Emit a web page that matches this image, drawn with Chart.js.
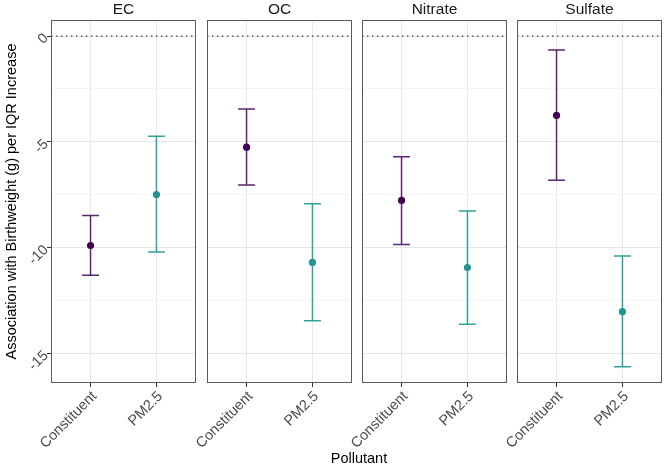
<!DOCTYPE html>
<html>
<head>
<meta charset="utf-8">
<script src="https://cdn.jsdelivr.net/npm/chart.js@4"></script>
<style>
  body { margin: 0; background: #fff; }
  #wrap { position: relative; width: 666px; height: 464px; font-family: "Liberation Sans", Arial, sans-serif; }
  #wrap canvas { position: absolute; top: 0; }
  #xtitle { position: absolute; left: 309px; width: 100px; top: 450px; text-align: center; font-size: 14.5px; line-height: 17px; color: #000; }
</style>
</head>
<body>
<div id="wrap">
  <canvas id="c0" width="200" height="464" style="left:0px"></canvas>
  <canvas id="c1" width="209" height="464" style="left:147px"></canvas>
  <canvas id="c2" width="209" height="464" style="left:302px"></canvas>
  <canvas id="c3" width="209" height="464" style="left:457px"></canvas>
  <div id="xtitle">Pollutant</div>
</div>
<script>
const facets = ["EC", "OC", "Nitrate", "Sulfate"];
const groups = ["Constituent", "PM2.5"];
const constituentEst = [-9.90, -5.25, -7.77, -3.75];
const constituentLow = [-11.31, -7.04, -9.85, -6.82];
const constituentHigh = [-8.48, -3.45, -5.70, -0.66];
const pm25Est = [-7.49, -10.70, -10.94, -13.03];
const pm25Low = [-10.21, -13.46, -13.62, -15.63];
const pm25High = [-4.74, -7.93, -8.27, -10.40];
const yTicks = [-15, -12.5, -10, -7.5, -5, -2.5, 0];
const yLimits = [-16.4, 0.76];

const pointColors = ["#440154", "#21968e"];
const barColors = ["#5b2570", "#2fa398"];
const capHalf = 0.128;
const tickFont = { size: 14.5, family: "Liberation Sans" };

const errorBars = {
  id: "errorBars",
  beforeDatasetsDraw(chart, args, opts) {
    const { ctx, scales: { x, y } } = chart;
    const i = opts.facet;
    const bars = [
      [1, constituentLow[i], constituentHigh[i], barColors[0]],
      [2, pm25Low[i], pm25High[i], barColors[1]]
    ];
    ctx.save();
    ctx.lineWidth = 1.5;
    bars.forEach(([pos, lo, hi, col]) => {
      const cx = x.getPixelForValue(pos);
      const x0 = x.getPixelForValue(pos - capHalf);
      const x1 = x.getPixelForValue(pos + capHalf);
      const yl = y.getPixelForValue(lo);
      const yh = y.getPixelForValue(hi);
      ctx.strokeStyle = col;
      ctx.beginPath();
      ctx.moveTo(x0, yh); ctx.lineTo(x1, yh);
      ctx.moveTo(cx, yh); ctx.lineTo(cx, yl);
      ctx.moveTo(x0, yl); ctx.lineTo(x1, yl);
      ctx.stroke();
    });
    ctx.restore();
  },
  afterDraw(chart) {
    const { ctx, chartArea: a } = chart;
    ctx.save();
    ctx.strokeStyle = "#5a5a5a";
    ctx.lineWidth = 1;
    ctx.strokeRect(a.left + 0.5, a.top + 0.5, a.right - a.left - 1, a.bottom - a.top - 1);
    ctx.restore();
  }
};

const isMajor = v => v % 5 === 0;

facets.forEach((name, i) => {
  const first = i === 0;
  new Chart(document.getElementById("c" + i), {
    type: "scatter",
    data: {
      datasets: [
        {
          data: [{ x: 1, y: constituentEst[i] }, { x: 2, y: pm25Est[i] }],
          backgroundColor: pointColors,
          borderWidth: 0,
          pointRadius: 3.6
        },
        {
          type: "line",
          data: [{ x: 0.4, y: 0 }, { x: 2.6, y: 0 }],
          borderColor: "#333",
          borderWidth: 1.4,
          borderDash: [1.4, 3.6],
          pointRadius: 0
        }
      ]
    },
    options: {
      responsive: false,
      animation: false,
      layout: { padding: { left: 0, right: 1, top: 0, bottom: 0 } },
      plugins: {
        legend: { display: false },
        tooltip: { enabled: false },
        title: {
          display: true,
          fullSize: false,
          text: name,
          color: "#1a1a1a",
          font: { size: 15.5, weight: "normal", family: "Liberation Sans", lineHeight: 1.2 },
          padding: { top: 0, bottom: 1.4 }
        },
        errorBars: { facet: i }
      },
      scales: {
        x: {
          type: "linear",
          min: 0.4,
          max: 2.6,
          afterBuildTicks: s => { s.ticks = [1, 2].map(v => ({ value: v })); },
          afterFit: s => { s.height = 81; s.paddingLeft = 0; s.paddingRight = 0; },
          ticks: {
            autoSkip: false,
            minRotation: 45,
            maxRotation: 45,
            padding: 1,
            labelOffset: 4,
            color: "#4d4d4d",
            font: tickFont,
            callback: v => groups[v - 1]
          },
          grid: { color: "#e8e8e8", tickColor: "#333", tickLength: 4 },
          border: { display: false }
        },
        y: {
          min: yLimits[0],
          max: yLimits[1],
          afterBuildTicks: s => { s.ticks = yTicks.map(v => ({ value: v })); },
          afterFit: s => { s.width = first ? 51 : 60; },
          ticks: {
            display: first,
            minRotation: 45,
            maxRotation: 45,
            padding: 1,
            color: "#4d4d4d",
            font: tickFont,
            callback: v => (isMajor(v) ? String(v) : "")
          },
          grid: {
            color: c => (c.tick && isMajor(c.tick.value) ? "#e6e6e6" : "#f1f1f1"),
            lineWidth: c => (c.tick && isMajor(c.tick.value) ? 1 : 0.7),
            drawTicks: first,
            tickLength: 4,
            tickColor: c => (c.tick && isMajor(c.tick.value) ? "#333" : "rgba(0,0,0,0)")
          },
          border: { display: false },
          title: {
            display: first,
            text: "Association with Birthweight (g) per IQR Increase",
            color: "#000",
            font: { size: 14.5, family: "Liberation Sans" },
            padding: { top: 3, bottom: 0 }
          }
        }
      }
    },
    plugins: [errorBars]
  });
});
</script>
</body>
</html>
